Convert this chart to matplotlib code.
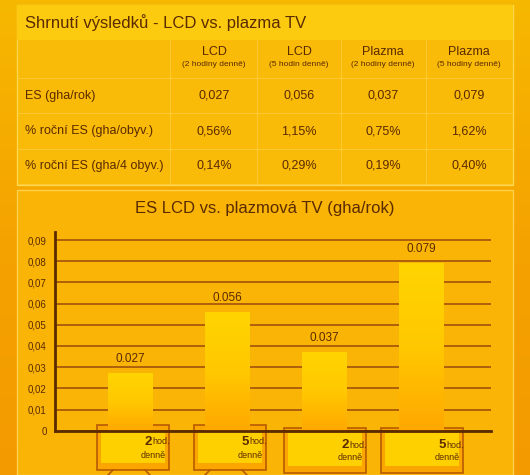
import matplotlib
matplotlib.use("Agg")
import matplotlib.pyplot as plt
import numpy as np
from matplotlib.patches import Rectangle

plt.rcParams['font.family'] = ['Liberation Sans Narrow', 'Liberation Sans', 'DejaVu Sans']

columns = ["LCD", "LCD", "Plazma", "Plazma"]
subcols = ["(2 hodiny denně)", "(5 hodin denně)", "(2 hodiny denně)", "(5 hodiny denně)"]
row_labels = ["ES (gha/rok)", "% roční ES (gha/obyv.)", "% roční ES (gha/4 obyv.)"]
table_values = [["0,027", "0,056", "0,037", "0,079"],
                ["0,56%", "1,15%", "0,75%", "1,62%"],
                ["0,14%", "0,29%", "0,19%", "0,40%"]]
bar_values = [0.027, 0.056, 0.037, 0.079]
bar_labels = ["0.027", "0.056", "0.037", "0.079"]
tv_hours = ["2", "5", "2", "5"]
yticks = [0, 0.01, 0.02, 0.03, 0.04, 0.05, 0.06, 0.07, 0.08, 0.09]
ytick_labels = ["0", "0,01", "0,02", "0,03", "0,04", "0,05", "0,06", "0,07", "0,08", "0,09"]

W, H = 530, 475
fig = plt.figure(figsize=(W/100, H/100), dpi=100)
bg = fig.add_axes([0, 0, 1, 1])
bg.set_xlim(0, W); bg.set_ylim(H, 0); bg.axis('off')
grad = np.linspace(0, 1, 256)[:, None]
cmap = matplotlib.colors.LinearSegmentedColormap.from_list('g', ['#F7B800', '#F5A300', '#F39A00'])
bg.imshow(grad, extent=[0, W, H, 0], cmap=cmap, aspect='auto', zorder=0)
bg.add_patch(Rectangle((17, 5), 496, 180, fc='#F9BA08', ec='#FFD84A', lw=1, zorder=1))
bg.add_patch(Rectangle((17, 5), 496, 35, fc='#FCCB10', ec='none', zorder=1))
bg.add_patch(Rectangle((17, 190), 496, 285, fc='#FAB406', ec='#FFD04A', lw=1, zorder=1))
dark = '#5A2A00'
bg.text(25, 23, "Shrnutí výsledků - LCD vs. plazma TV", fontsize=12, color=dark, va='center', zorder=3)
col_x = [214, 299, 383, 469]
for i, cx in enumerate(col_x):
    bg.text(cx, 52, columns[i], ha='center', va='center', fontsize=9, color=dark, zorder=3)
    bg.text(cx, 65, subcols[i], ha='center', va='center', fontsize=6, color=dark, zorder=3)
row_y = [96, 131, 166]
for r, ry in enumerate(row_y):
    bg.text(25, ry, row_labels[r], va='center', fontsize=9, color=dark, zorder=3)
    for i, cx in enumerate(col_x):
        bg.text(cx, ry, table_values[r][i], ha='center', va='center', fontsize=9, color=dark, zorder=3)
for y in [78, 113, 149, 184]:
    bg.plot([17, 513], [y, y], color='#FFD450', lw=0.8, alpha=0.6, zorder=2)
for x in [170, 257, 341, 426]:
    bg.plot([x, x], [40, 184], color='#FFD450', lw=0.8, alpha=0.6, zorder=2)
bg.text(265, 208, "ES LCD vs. plazmová TV (gha/rok)", ha='center', va='center', fontsize=12, color=dark, zorder=3)

y0, y9 = 430.7, 240.0
ppu = (y0 - y9) / 0.09
top_val = 0.09 + (y9 - 232) / ppu
ax = fig.add_axes([55/W, 1 - y0/H, (491-55)/W, (y0-232)/H])
ax.set_facecolor('none')
xs = np.arange(4)
bars = ax.bar(xs, bar_values, width=0.46, color='#FFC800', zorder=2)
cm2 = matplotlib.colors.LinearSegmentedColormap.from_list('b', ['#FFD400', '#FFC800', '#FFA800'])
for b in bars:
    b.set_visible(False)
    x0 = b.get_x(); w = b.get_width(); h = b.get_height()
    g = np.linspace(0, 1, 100)[:, None]
    ax.imshow(g, extent=[x0, x0 + w, 0, h], origin='upper', cmap=cm2, aspect='auto', zorder=2)
ax.set_xlim(-0.78, 3.72); ax.set_ylim(0, top_val)
for x, v, l in zip(xs, bar_values, bar_labels):
    ax.text(x, v + 0.004, l, ha='center', va='bottom', fontsize=8.5, color=dark)
ax.set_yticks(yticks)
ax.set_yticklabels(ytick_labels, fontsize=7, color=dark)
ax.yaxis.grid(True, color='#A0520A', lw=1.2, zorder=1)
ax.set_axisbelow(True)
ax.set_xticks([])
for s in ['top', 'right']:
    ax.spines[s].set_visible(False)
ax.spines['left'].set_color(dark); ax.spines['left'].set_linewidth(2)
ax.spines['bottom'].set_color(dark); ax.spines['bottom'].set_linewidth(2)
ax.tick_params(axis='y', length=0, pad=6)

centers = [129, 226, 322, 419]
for i, cx in enumerate(centers):
    wide = i >= 2
    w = 72 if not wide else 82
    top = 425 if not wide else 428
    hgt = 45
    left = cx - 32 if not wide else cx - 38
    bg.add_patch(Rectangle((left, top), w, hgt, fc='#FBA500', ec='#B85A00', lw=1.2, zorder=4))
    bg.add_patch(Rectangle((left + 4, top + 5), w - 8, hgt - 12, fc='#FFD000', ec='none', zorder=5))
    tx = left + w - 18
    bg.text(tx + 1, top + 17, tv_hours[i], fontsize=9.5, weight='bold', color=dark, ha='right', va='center', zorder=6)
    bg.text(tx + 1, top + 17, "hod.", fontsize=6.5, color=dark, ha='left', va='center', zorder=6)
    bg.text(tx + 2, top + 30, "denně", fontsize=6.5, color=dark, ha='center', va='center', zorder=6)
    if not wide:
        bg.plot([cx - 16, cx - 21], [top + hgt, H], color='#B85A00', lw=1.2, zorder=4)
        bg.plot([cx + 16, cx + 21], [top + hgt, H], color='#B85A00', lw=1.2, zorder=4)

fig.savefig('out.png', dpi=100)
